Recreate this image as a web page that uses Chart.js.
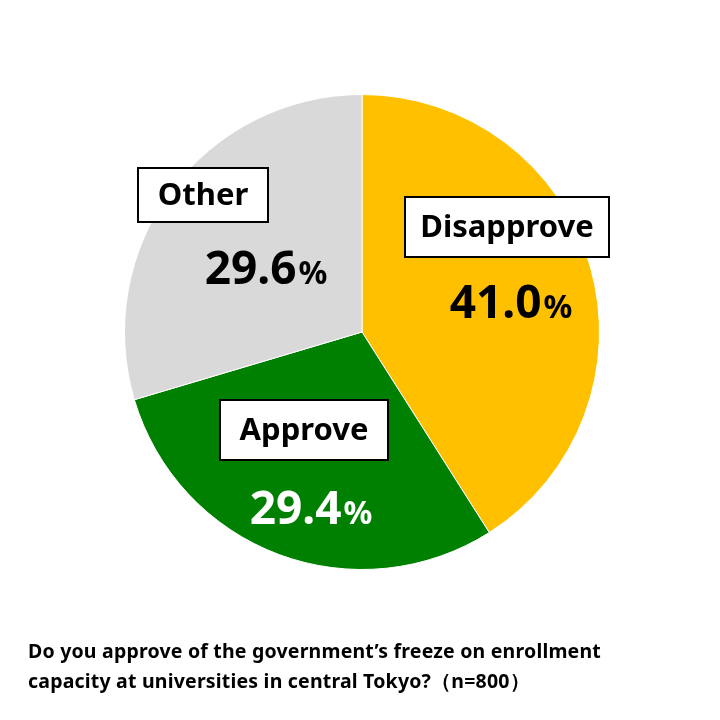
<!DOCTYPE html>
<html>
<head>
<meta charset="utf-8">
<script src="https://cdn.jsdelivr.net/npm/chart.js@4/dist/chart.umd.min.js"></script>
<style>
  body { margin: 0; background: #fff; }
  #wrap { position: relative; width: 720px; height: 720px; }
  #note {
    position: absolute; left: 28px; top: 636px; width: 690px;
    font-family: "Noto Sans", sans-serif; font-weight: bold; font-size: 19.5px;
    line-height: 30px; color: #000; letter-spacing: 0.2px;
  }
</style>
</head>
<body>
<div id="wrap">
  <canvas id="pie" width="720" height="720"></canvas>
  <div id="note">Do you approve of the government’s freeze on enrollment<br>capacity at universities in central Tokyo?（n=800）</div>
</div>
<script>
// Données du graphique
const labels = ['Disapprove', 'Approve', 'Other'];
const values = [41.0, 29.4, 29.6];
const colors = ['#FFC000', '#008000', '#D9D9D9'];

// Position des étiquettes (boîte + pourcentage)
const labelSpots = [
  { box: [405, 197, 204, 60], size: 31, pct: [510, 302], pctColor: '#000' },
  { box: [220, 400, 168, 60], size: 31, pct: [310, 508], pctColor: '#fff' },
  { box: [138, 168, 130, 54], size: 31, pct: [265, 268], pctColor: '#000' }
];

const labelPlugin = {
  id: 'labelPlugin',
  afterDraw(chart) {
    const ctx = chart.ctx;
    ctx.save();
    labelSpots.forEach(function(s, i) {
      const [x, y, w, h] = s.box;
      ctx.fillStyle = '#fff';
      ctx.fillRect(x, y, w, h);
      ctx.strokeStyle = '#000';
      ctx.lineWidth = 2;
      ctx.strokeRect(x, y, w, h);
      ctx.fillStyle = '#000';
      ctx.font = 'bold ' + s.size + 'px "Noto Sans", sans-serif';
      ctx.textAlign = 'center';
      ctx.textBaseline = 'middle';
      ctx.fillText(labels[i], x + w / 2, y + h / 2 + 1);

      // Pourcentage : chiffre grand, % plus petit
      const num = values[i].toFixed(1);
      ctx.font = 'bold 46px "Noto Sans", sans-serif';
      const nw = ctx.measureText(num).width;
      ctx.font = 'bold 32px "Noto Sans", sans-serif';
      const pw = ctx.measureText('%').width;
      const left = s.pct[0] - (nw + pw) / 2;
      ctx.fillStyle = s.pctColor;
      ctx.textAlign = 'left';
      ctx.textBaseline = 'alphabetic';
      ctx.font = 'bold 46px "Noto Sans", sans-serif';
      ctx.fillText(num, left, s.pct[1] + 16);
      ctx.font = 'bold 32px "Noto Sans", sans-serif';
      ctx.fillText('%', left + nw + 2, s.pct[1] + 16);
    });
    ctx.restore();
  }
};

new Chart(document.getElementById('pie'), {
  type: 'pie',
  data: {
    labels: labels,
    datasets: [{
      data: values,
      backgroundColor: colors,
      borderColor: '#fff',
      borderWidth: 1
    }]
  },
  options: {
    responsive: false,
    animation: false,
    layout: { padding: { top: 94, bottom: 150, left: 124, right: 120 } },
    plugins: { legend: { display: false }, tooltip: { enabled: false } }
  },
  plugins: [labelPlugin]
});
</script>
</body>
</html>
